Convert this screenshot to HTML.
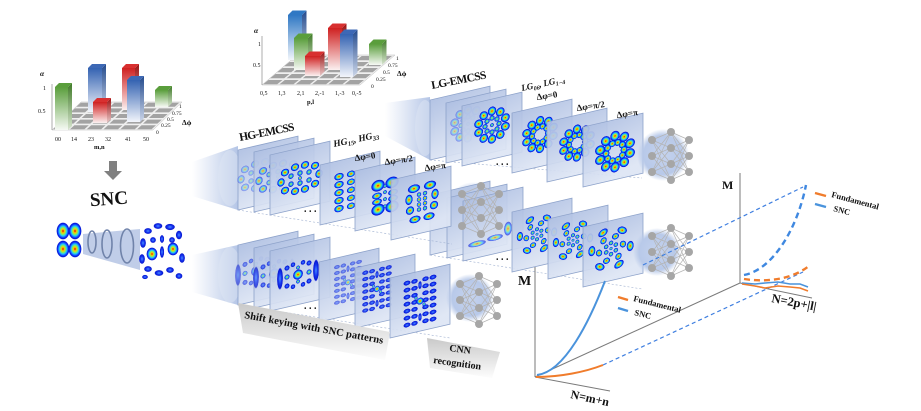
<!DOCTYPE html>
<html><head><meta charset="utf-8"><style>
html,body{margin:0;padding:0;background:#fff;width:921px;height:411px;overflow:hidden}
svg{display:block}
text{font-family:"Liberation Serif",serif;fill:#111}
</style></head><body>
<svg width="921" height="411" viewBox="0 0 921 411" xmlns="http://www.w3.org/2000/svg">
<defs>
<radialGradient id="jet">
 <stop offset="0" stop-color="#e00000"/>
 <stop offset="0.22" stop-color="#ffc800"/>
 <stop offset="0.42" stop-color="#80f060"/>
 <stop offset="0.58" stop-color="#20c8ff"/>
 <stop offset="0.78" stop-color="#1040ff"/>
 <stop offset="0.93" stop-color="#0010d0"/>
 <stop offset="1" stop-color="#0010d0" stop-opacity="0.3"/>
</radialGradient>
<radialGradient id="jb">
 <stop offset="0" stop-color="#f0e020"/>
 <stop offset="0.35" stop-color="#40e0b0"/>
 <stop offset="0.65" stop-color="#1a70ff"/>
 <stop offset="0.9" stop-color="#0818d8"/>
 <stop offset="1" stop-color="#0818d8" stop-opacity="0.3"/>
</radialGradient>
<radialGradient id="bl">
 <stop offset="0" stop-color="#4a90ff"/>
 <stop offset="0.5" stop-color="#1535f0"/>
 <stop offset="0.88" stop-color="#0818d0"/>
 <stop offset="1" stop-color="#0818d0" stop-opacity="0.2"/>
</radialGradient>
<linearGradient id="pn" x1="0" y1="0" x2="0.3" y2="1">
 <stop offset="0" stop-color="#aebfe2"/>
 <stop offset="1" stop-color="#dde5f4"/>
</linearGradient>
<linearGradient id="bm" x1="0" y1="0" x2="1" y2="0">
 <stop offset="0" stop-color="#c2d0ec" stop-opacity="0"/>
 <stop offset="1" stop-color="#b4c5e6"/>
</linearGradient>
<radialGradient id="cir">
 <stop offset="0" stop-color="#c5d3ee"/>
 <stop offset="0.75" stop-color="#b8c9e9"/>
 <stop offset="1" stop-color="#b8c9e9" stop-opacity="0"/>
</radialGradient>
<linearGradient id="gG" x1="0" y1="0" x2="0" y2="1"><stop offset="0" stop-color="#5a9e3c"/><stop offset="1" stop-color="#f6f9f4"/></linearGradient>
<linearGradient id="gGs" x1="0" y1="0" x2="0" y2="1"><stop offset="0" stop-color="#3f7a27"/><stop offset="1" stop-color="#d8e5d0"/></linearGradient>
<linearGradient id="gB" x1="0" y1="0" x2="0" y2="1"><stop offset="0" stop-color="#3463b2"/><stop offset="1" stop-color="#f2f5fb"/></linearGradient>
<linearGradient id="gBs" x1="0" y1="0" x2="0" y2="1"><stop offset="0" stop-color="#234a8c"/><stop offset="1" stop-color="#cdd7ea"/></linearGradient>
<linearGradient id="gB2" x1="0" y1="0" x2="0" y2="1"><stop offset="0" stop-color="#2f78c4"/><stop offset="1" stop-color="#f2f6fb"/></linearGradient>
<linearGradient id="gR" x1="0" y1="0" x2="0" y2="1"><stop offset="0" stop-color="#cf2020"/><stop offset="1" stop-color="#fbf0f0"/></linearGradient>
<linearGradient id="gRs" x1="0" y1="0" x2="0" y2="1"><stop offset="0" stop-color="#9c1010"/><stop offset="1" stop-color="#e8c8c8"/></linearGradient>
<linearGradient id="gray" x1="0" y1="0" x2="0" y2="1"><stop offset="0" stop-color="#c9c9c9"/><stop offset="1" stop-color="#fdfdfd"/></linearGradient>

<rect id="pr" width="60" height="60" fill="url(#pn)" fill-opacity="0.93" stroke="#8da2ca" stroke-width="0.8"/>

<g id="pHG">
<ellipse cx="-15" cy="-9" rx="4.2" ry="3.8" fill="url(#jet)"/>
<ellipse cx="-5" cy="-12" rx="4.2" ry="3.8" fill="url(#jet)"/>
<ellipse cx="5" cy="-12" rx="4.2" ry="3.8" fill="url(#jet)"/>
<ellipse cx="15" cy="-9" rx="4.2" ry="3.8" fill="url(#jet)"/>
<ellipse cx="-19" cy="0" rx="3.8" ry="4.2" fill="url(#jet)"/>
<ellipse cx="19" cy="0" rx="3.8" ry="4.2" fill="url(#jet)"/>
<ellipse cx="-15" cy="9" rx="4.2" ry="3.8" fill="url(#jet)"/>
<ellipse cx="-5" cy="12" rx="4.2" ry="3.8" fill="url(#jet)"/>
<ellipse cx="5" cy="12" rx="4.2" ry="3.8" fill="url(#jet)"/>
<ellipse cx="15" cy="9" rx="4.2" ry="3.8" fill="url(#jet)"/>
<circle cx="-9" cy="-4" r="2.8" fill="url(#jb)"/>
<circle cx="0" cy="-5" r="2.8" fill="url(#jb)"/>
<circle cx="9" cy="-4" r="2.8" fill="url(#jb)"/>
<circle cx="-9" cy="4" r="2.8" fill="url(#jb)"/>
<circle cx="0" cy="5" r="2.8" fill="url(#jb)"/>
<circle cx="9" cy="4" r="2.8" fill="url(#jb)"/>
<circle cx="0" cy="0" r="2" fill="url(#jet)"/>
</g>

<g id="pA4">
<ellipse cx="-6" cy="-16" rx="4.8" ry="3.6" fill="url(#jet)"/>
<ellipse cx="-6" cy="-8" rx="4.8" ry="3.6" fill="url(#jet)"/>
<ellipse cx="-6" cy="0" rx="4.8" ry="3.6" fill="url(#jet)"/>
<ellipse cx="-6" cy="8" rx="4.8" ry="3.6" fill="url(#jet)"/>
<ellipse cx="-6" cy="16" rx="4.8" ry="3.6" fill="url(#jet)"/>
<ellipse cx="6" cy="-16" rx="4.2" ry="3.2" fill="url(#jet)"/>
<ellipse cx="6" cy="-8" rx="4.2" ry="3.2" fill="url(#jet)"/>
<ellipse cx="6" cy="0" rx="4.2" ry="3.2" fill="url(#jet)"/>
<ellipse cx="6" cy="8" rx="4.2" ry="3.2" fill="url(#jet)"/>
<ellipse cx="6" cy="16" rx="4.2" ry="3.2" fill="url(#jet)"/>
</g>

<g id="pA5">
<ellipse cx="-7" cy="-12" rx="6.8" ry="5.8" fill="url(#jet)"/>
<ellipse cx="7" cy="-12" rx="6.8" ry="5.8" fill="url(#jet)"/>
<ellipse cx="-7" cy="12" rx="6.8" ry="5.8" fill="url(#jet)"/>
<ellipse cx="7" cy="12" rx="6.8" ry="5.8" fill="url(#jet)"/>
<ellipse cx="-8" cy="-2" rx="5" ry="3.2" fill="url(#jet)"/>
<ellipse cx="8" cy="-2" rx="5" ry="3.2" fill="url(#jet)"/>
<ellipse cx="-8" cy="4" rx="5" ry="3.2" fill="url(#jet)"/>
<ellipse cx="8" cy="4" rx="5" ry="3.2" fill="url(#jet)"/>
<circle cx="0" cy="-4" r="2" fill="url(#jb)"/>
<circle cx="0" cy="3" r="2" fill="url(#jb)"/>
<circle cx="0" cy="-10" r="1.8" fill="url(#jb)"/>
<circle cx="0" cy="10" r="1.8" fill="url(#jb)"/>
</g>

<g id="pA6">
<ellipse cx="-8" cy="-14" rx="6.2" ry="4.2" fill="url(#jet)"/>
<ellipse cx="8" cy="-14" rx="6.2" ry="4.2" fill="url(#jet)"/>
<ellipse cx="-13" cy="-4" rx="3.7" ry="5.2" fill="url(#jet)"/>
<ellipse cx="13" cy="-4" rx="3.7" ry="5.2" fill="url(#jet)"/>
<ellipse cx="-12" cy="7" rx="4.2" ry="4.2" fill="url(#jet)"/>
<ellipse cx="12" cy="7" rx="4.2" ry="4.2" fill="url(#jet)"/>
<ellipse cx="-7" cy="17" rx="5.7" ry="3.7" fill="url(#jet)"/>
<ellipse cx="7" cy="17" rx="5.7" ry="3.7" fill="url(#jet)"/>
<circle cx="-3" cy="-7" r="2.3" fill="url(#jb)"/><circle cx="3" cy="-7" r="2.3" fill="url(#jb)"/>
<circle cx="-3" cy="-2" r="2.3" fill="url(#jet)"/><circle cx="3" cy="-2" r="2.3" fill="url(#jet)"/>
<circle cx="-3" cy="3" r="2.3" fill="url(#jet)"/><circle cx="3" cy="3" r="2.3" fill="url(#jet)"/>
<circle cx="-3" cy="8" r="2.3" fill="url(#jb)"/><circle cx="3" cy="8" r="2.3" fill="url(#jb)"/>
</g>

<ellipse id="lgo" cx="0" cy="-14" rx="4.3" ry="4.6" fill="url(#jet)"/>
<circle id="lgi" cx="0" cy="-7" r="2.7" fill="url(#jb)"/>
<circle id="lgi2" cx="0" cy="-8" r="3.1" fill="url(#jet)"/>
<g id="ring10">
<use href="#lgo"/><use href="#lgo" transform="rotate(36)"/><use href="#lgo" transform="rotate(72)"/><use href="#lgo" transform="rotate(108)"/><use href="#lgo" transform="rotate(144)"/><use href="#lgo" transform="rotate(180)"/><use href="#lgo" transform="rotate(216)"/><use href="#lgo" transform="rotate(252)"/><use href="#lgo" transform="rotate(288)"/><use href="#lgo" transform="rotate(324)"/>
</g>
<g id="pLG">
<use href="#ring10"/>
<use href="#lgi"/><use href="#lgi" transform="rotate(45)"/><use href="#lgi" transform="rotate(90)"/><use href="#lgi" transform="rotate(135)"/><use href="#lgi" transform="rotate(180)"/><use href="#lgi" transform="rotate(225)"/><use href="#lgi" transform="rotate(270)"/><use href="#lgi" transform="rotate(315)"/>
<circle r="2" fill="url(#jb)"/>
</g>
<g id="pLG2">
<use href="#ring10"/>
<use href="#lgi2" transform="rotate(18)"/><use href="#lgi2" transform="rotate(54)"/><use href="#lgi2" transform="rotate(90)"/><use href="#lgi2" transform="rotate(126)"/><use href="#lgi2" transform="rotate(162)"/><use href="#lgi2" transform="rotate(198)"/><use href="#lgi2" transform="rotate(234)"/><use href="#lgi2" transform="rotate(270)"/><use href="#lgi2" transform="rotate(306)"/><use href="#lgi2" transform="rotate(342)"/>
</g>

<g id="arm">
<circle cx="0" cy="-5" r="2.1" fill="url(#jb)"/>
<ellipse cx="4" cy="-10" rx="3.2" ry="2.8" fill="url(#jet)"/>
<ellipse cx="10" cy="-14" rx="4.6" ry="3.2" fill="url(#jet)" transform="rotate(30 10 -14)"/>
</g>
<g id="pSp">
<use href="#arm"/><use href="#arm" transform="rotate(60)"/><use href="#arm" transform="rotate(120)"/><use href="#arm" transform="rotate(180)"/><use href="#arm" transform="rotate(240)"/><use href="#arm" transform="rotate(300)"/>
<circle r="1.5" fill="url(#jb)"/>
</g>

<g id="pD3">
<ellipse cx="-18" cy="0" rx="3" ry="11" fill="url(#bl)"/>
<ellipse cx="18" cy="0" rx="3" ry="11" fill="url(#bl)"/>
<circle cx="-11" cy="-9" r="2.6" fill="url(#bl)"/><circle cx="-11" cy="0" r="2.6" fill="url(#jb)"/><circle cx="-11" cy="9" r="2.6" fill="url(#bl)"/>
<circle cx="11" cy="-9" r="2.6" fill="url(#bl)"/><circle cx="11" cy="0" r="2.6" fill="url(#jb)"/><circle cx="11" cy="9" r="2.6" fill="url(#bl)"/>
<circle cx="-5" cy="-11" r="2.4" fill="url(#bl)"/><circle cx="5" cy="-11" r="2.4" fill="url(#bl)"/>
<circle cx="-5" cy="11" r="2.4" fill="url(#bl)"/><circle cx="5" cy="11" r="2.4" fill="url(#bl)"/>
<circle cx="0" cy="0" r="5" fill="url(#jet)"/>
<circle cx="0" cy="-7" r="2" fill="url(#jb)"/><circle cx="0" cy="7" r="2" fill="url(#jb)"/>
</g>

<g id="dr">
<ellipse cx="-13" cy="0" rx="3.6" ry="2.4" fill="url(#bl)"/>
<ellipse cx="-5.5" cy="0" rx="3.4" ry="2.4" fill="url(#bl)"/>
<ellipse cx="5.5" cy="0" rx="3.4" ry="2.4" fill="url(#bl)"/>
<ellipse cx="13" cy="0" rx="3.6" ry="2.4" fill="url(#bl)"/>
</g>
<g id="pD6">
<use href="#dr" y="-21"/><use href="#dr" y="-14"/><use href="#dr" y="-7"/><use href="#dr" y="0"/><use href="#dr" y="7"/><use href="#dr" y="14"/><use href="#dr" y="21"/>
<ellipse cx="0" cy="-16" rx="1.8" ry="4" fill="url(#bl)"/>
<ellipse cx="0" cy="16" rx="1.8" ry="4" fill="url(#bl)"/>
<circle cx="0" cy="0" r="3.5" fill="url(#jet)"/>
<circle cx="-4" cy="-4" r="1.8" fill="url(#jb)"/><circle cx="4" cy="4" r="1.8" fill="url(#jb)"/>
</g>

<g id="net">
<path d="M0,12L19,4M0,12L19,20M0,12L19,36M0,12L19,52M0,28L19,4M0,28L19,20M0,28L19,36M0,28L19,52M0,44L19,4M0,44L19,20M0,44L19,36M0,44L19,52M19,4L37,12M19,4L37,28M19,4L37,44M19,20L37,12M19,20L37,28M19,20L37,44M19,36L37,12M19,36L37,28M19,36L37,44M19,52L37,12M19,52L37,28M19,52L37,44" stroke="#b4b4b4" stroke-width="0.7" fill="none"/>
<g fill="#a6a6a6">
<circle cx="0" cy="12" r="4"/><circle cx="0" cy="28" r="4"/><circle cx="0" cy="44" r="4"/>
<circle cx="19" cy="4" r="4"/><circle cx="19" cy="20" r="4"/><circle cx="19" cy="36" r="4"/><circle cx="19" cy="52" r="4"/>
<circle cx="37" cy="12" r="4"/><circle cx="37" cy="28" r="4"/><circle cx="37" cy="44" r="4"/>
</g>
</g>

<g id="tr1" fill="#a3a3a3">
<polygon points="1.2,-0.8 15.6,-0.8 20,-4.8 5.6,-4.8"/>
<polygon points="18,-0.8 32.4,-0.8 36.8,-4.8 22.4,-4.8"/>
<polygon points="34.8,-0.8 49.2,-0.8 53.6,-4.8 39.2,-4.8"/>
<polygon points="51.6,-0.8 66,-0.8 70.4,-4.8 56,-4.8"/>
<polygon points="68.4,-0.8 82.8,-0.8 87.2,-4.8 72.8,-4.8"/>
<polygon points="85.2,-0.8 99.6,-0.8 104,-4.8 89.6,-4.8"/>
</g>
<g id="tr2" fill="#a3a3a3">
<polygon points="1.2,-0.8 15.2,-0.8 20.5,-5 6.5,-5"/>
<polygon points="17.5,-0.8 31.5,-0.8 36.8,-5 22.8,-5"/>
<polygon points="33.8,-0.8 47.8,-0.8 53.1,-5 39.1,-5"/>
<polygon points="50.1,-0.8 64.1,-0.8 69.4,-5 55.4,-5"/>
<polygon points="66.4,-0.8 80.4,-0.8 85.7,-5 71.7,-5"/>
<polygon points="82.7,-0.8 96.7,-0.8 102,-5 88,-5"/>
</g>
</defs>

<!-- ===== Left bar chart ===== -->
<polygon points="52,130 153,130 182,102 81,102" fill="#efefef" stroke="#bdbdbd" stroke-width="0.5"/>
<use href="#tr1" transform="translate(52,130)"/>
<use href="#tr1" transform="translate(57.8,124.4)"/>
<use href="#tr1" transform="translate(63.6,118.8)"/>
<use href="#tr1" transform="translate(69.4,113.2)"/>
<use href="#tr1" transform="translate(75.2,107.6)"/>
<line x1="52" y1="84" x2="52" y2="130" stroke="#999" stroke-width="0.8"/>
<rect x="88" y="68" width="14" height="44" fill="url(#gB)"/><polygon points="102,68 106,64 106,108 102,112" fill="url(#gBs)"/><polygon points="88,68 92,64 106,64 102,68" fill="#3d68b5"/>
<rect x="122" y="68" width="13" height="42" fill="url(#gR)"/><polygon points="135,68 139,64 139,106 135,110" fill="url(#gRs)"/><polygon points="122,68 126,64 139,64 135,68" fill="#d83030"/>
<rect x="155" y="90" width="13" height="17" fill="url(#gG)"/><polygon points="168,90 172,86 172,103 168,107" fill="url(#gGs)"/><polygon points="155,90 159,86 172,86 168,90" fill="#5a9e3c"/>
<rect x="127" y="80" width="13" height="42" fill="url(#gB)"/><polygon points="140,80 144,76 144,118 140,122" fill="url(#gBs)"/><polygon points="127,80 131,76 144,76 140,80" fill="#3d68b5"/>
<rect x="93" y="102" width="14" height="21" fill="url(#gR)"/><polygon points="107,102 111,98 111,119 107,123" fill="url(#gRs)"/><polygon points="93,102 97,98 111,98 107,102" fill="#d83030"/>
<rect x="55" y="87" width="13" height="43" fill="url(#gG)"/><polygon points="68,87 72,83 72,126 68,130" fill="url(#gGs)"/><polygon points="55,87 59,83 72,83 68,87" fill="#5a9e3c"/>
<g font-size="6">
<text x="40" y="76" font-size="7.5" font-style="italic" font-weight="bold">α</text>
<text x="43" y="90">1</text>
<text x="38" y="113">0.5</text>
<text x="55" y="141">00</text><text x="71" y="141">14</text><text x="88" y="141">23</text><text x="105" y="141">32</text><text x="125" y="141">41</text><text x="143" y="141">50</text>
<text x="94" y="149" font-weight="bold" font-size="6.5">m,n</text>
<text x="179" y="108" font-size="5.5">1</text><text x="172" y="115" font-size="5.5">0.75</text><text x="167" y="121" font-size="5.5">0.5</text><text x="161" y="127" font-size="5.5">0.25</text><text x="156" y="134" font-size="5.5">0</text>
<text x="182" y="125" font-size="7.5" font-weight="bold">Δϕ</text>
</g>

<!-- ===== Top bar chart ===== -->
<polygon points="262,85 360,85 395,55 297,55" fill="#efefef" stroke="#bdbdbd" stroke-width="0.5"/>
<use href="#tr2" transform="translate(262,85)"/>
<use href="#tr2" transform="translate(269,79)"/>
<use href="#tr2" transform="translate(276,73)"/>
<use href="#tr2" transform="translate(283,67)"/>
<use href="#tr2" transform="translate(290,61)"/>
<line x1="262" y1="36" x2="262" y2="85" stroke="#999" stroke-width="0.8"/>
<rect x="288" y="15" width="14" height="45" fill="url(#gB2)"/><polygon points="302,15 306.5,10.5 306.5,55.5 302,60" fill="url(#gBs)"/><polygon points="288,15 292.5,10.5 306.5,10.5 302,15" fill="#2f78c4"/>
<rect x="369" y="44" width="13" height="21" fill="url(#gG)"/><polygon points="382,44 386.5,39.5 386.5,60.5 382,65" fill="url(#gGs)"/><polygon points="369,44 373.5,39.5 386.5,39.5 382,44" fill="#5a9e3c"/>
<rect x="328" y="28" width="14" height="42" fill="url(#gR)"/><polygon points="342,28 346.5,23.5 346.5,65.5 342,70" fill="url(#gRs)"/><polygon points="328,28 332.5,23.5 346.5,23.5 342,28" fill="#d83030"/>
<rect x="294" y="38" width="14" height="32" fill="url(#gG)"/><polygon points="308,38 312.5,33.5 312.5,65.5 308,70" fill="url(#gGs)"/><polygon points="294,38 298.5,33.5 312.5,33.5 308,38" fill="#5a9e3c"/>
<rect x="340" y="34" width="13" height="43" fill="url(#gB)"/><polygon points="353,34 357.5,29.5 357.5,72.5 353,77" fill="url(#gBs)"/><polygon points="340,34 344.5,29.5 357.5,29.5 353,34" fill="#3d68b5"/>
<rect x="305" y="56" width="15" height="20" fill="url(#gR)"/><polygon points="320,56 324.5,51.5 324.5,71.5 320,76" fill="url(#gRs)"/><polygon points="305,56 309.5,51.5 324.5,51.5 320,56" fill="#d83030"/>
<g font-size="6">
<text x="254" y="33" font-size="7.5" font-style="italic" font-weight="bold">α</text>
<text x="258" y="46">1</text>
<text x="253" y="67">0.5</text>
<text x="260" y="95">0,5</text><text x="278" y="95">1,3</text><text x="297" y="95">2,1</text><text x="315" y="95">2,-1</text><text x="335" y="95">1,-3</text><text x="352" y="95">0,-5</text>
<text x="307" y="104" font-weight="bold" font-size="6.5">p,l</text>
<text x="396" y="60" font-size="5.5">1</text><text x="388" y="67" font-size="5.5">0.75</text><text x="383" y="74" font-size="5.5">0.5</text><text x="376" y="81" font-size="5.5">0.25</text><text x="371" y="88" font-size="5.5">0</text>
<text x="397" y="76" font-size="7.5" font-weight="bold">Δϕ</text>
</g>

<!-- arrow -->
<rect x="109" y="161" width="8" height="11" fill="#808080"/>
<polygon points="104,171 122,171 113,180" fill="#808080"/>
<text x="90" y="205" font-size="19" font-weight="bold" transform="rotate(-4 108 200)">SNC</text>

<!-- SNC illustration -->
<polygon points="83,234 140,229 140,270 83,254" fill="#b9c8e6" opacity="0.9"/>
<g transform="translate(69,240)">
<ellipse cx="-6" cy="-9" rx="6.5" ry="8.5" fill="url(#jet)"/>
<ellipse cx="6" cy="-9" rx="6.5" ry="8.5" fill="url(#jet)"/>
<ellipse cx="-6" cy="9" rx="6.5" ry="8.5" fill="url(#jet)"/>
<ellipse cx="6" cy="9" rx="6.5" ry="8.5" fill="url(#jet)"/>
</g>
<g fill="none" stroke="#7083aa" stroke-width="1.6">
<ellipse cx="92" cy="242" rx="4" ry="11"/>
<ellipse cx="107" cy="244" rx="5" ry="14"/>
<ellipse cx="127" cy="246" rx="6.5" ry="17"/>
</g>
<g transform="translate(162,251)">
<ellipse cx="-14" cy="-20" rx="4" ry="3" fill="url(#bl)"/>
<ellipse cx="-4" cy="-25" rx="4.5" ry="3" fill="url(#bl)"/>
<ellipse cx="8" cy="-24" rx="5" ry="3.2" fill="url(#bl)"/>
<ellipse cx="17" cy="-16" rx="3.2" ry="4.5" fill="url(#bl)"/>
<ellipse cx="-19" cy="-8" rx="3" ry="5" fill="url(#bl)"/>
<ellipse cx="-9" cy="-11" rx="3" ry="3" fill="url(#bl)"/>
<ellipse cx="0" cy="-12" rx="2.2" ry="4" fill="url(#bl)"/>
<ellipse cx="10" cy="-11" rx="3" ry="3" fill="url(#bl)"/>
<ellipse cx="-10" cy="3" rx="5.5" ry="6.5" fill="url(#jet)"/>
<ellipse cx="11" cy="-2" rx="5.5" ry="6.5" fill="url(#jet)"/>
<ellipse cx="0" cy="1" rx="2.2" ry="6" fill="url(#bl)"/>
<ellipse cx="-20" cy="8" rx="3" ry="5" fill="url(#bl)"/>
<ellipse cx="20" cy="7" rx="3" ry="5" fill="url(#bl)"/>
<ellipse cx="-14" cy="18" rx="4" ry="3" fill="url(#bl)"/>
<ellipse cx="-3" cy="22" rx="4.5" ry="3" fill="url(#bl)"/>
<ellipse cx="8" cy="19" rx="4" ry="3" fill="url(#bl)"/>
<ellipse cx="17" cy="25" rx="3.5" ry="3" fill="url(#bl)"/>
<ellipse cx="-17" cy="26" rx="3" ry="2.2" fill="url(#bl)"/>
</g>

<!-- ===== Row B (LG) ===== -->
<polygon points="385,103 430,97 430,160 385,136" fill="url(#bm)"/>
<ellipse cx="425" cy="128" rx="10" ry="28" fill="#dde5f4" opacity="0.5"/>
<line x1="430" y1="160" x2="642" y2="178" stroke="#9fb0d0" stroke-width="0.6" stroke-dasharray="2,2"/>
<g transform="translate(430,100) skewY(-13)"><use href="#pr"/></g>
<g transform="translate(446,103) skewY(-13)"><use href="#pr"/><use href="#pLG" transform="translate(22,26)" opacity="0.35"/></g>
<g transform="translate(462,106) skewY(-13)"><use href="#pr"/><use href="#pLG" transform="translate(30,26)"/></g>
<text x="496" y="165" font-size="10" font-weight="bold">. . .</text>
<g transform="translate(512,113) skewY(-13)"><use href="#pr"/><use href="#pLG2" transform="translate(28,28)"/></g>
<g transform="translate(547,122) skewY(-13)"><use href="#pr"/><use href="#pLG2" transform="translate(30,28)"/></g>
<g transform="translate(583,127) skewY(-13)"><use href="#pr"/><use href="#pLG2" transform="translate(32,32) scale(1.12)"/></g>
<circle cx="663" cy="155" r="26" fill="url(#cir)"/>
<use href="#net" transform="translate(652,128)"/>
<text font-size="11.5" font-weight="bold" transform="translate(432,89) rotate(-11)" textLength="56">LG-EMCSS</text>
<text font-size="9" font-weight="bold" font-style="italic" transform="translate(522,91) rotate(-12)">LG<tspan font-size="6" dy="2">06</tspan><tspan dy="-2">, LG</tspan><tspan font-size="6" dy="2">1−4</tspan></text>
<text font-size="9" font-weight="bold" transform="translate(537,100) rotate(-8)">Δφ=0</text>
<text font-size="9" font-weight="bold" transform="translate(577,111) rotate(-8)">Δφ=π/2</text>
<text font-size="9" font-weight="bold" transform="translate(617,118) rotate(-8)">Δφ=π</text>

<!-- ===== Row C (spiral) ===== -->
<circle cx="474" cy="212" r="30" fill="url(#cir)"/>
<line x1="430" y1="255" x2="642" y2="289" stroke="#9fb0d0" stroke-width="0.6" stroke-dasharray="2,2"/>
<g transform="translate(430,195) skewY(-13)"><use href="#pr"/></g>
<g transform="translate(447,198) skewY(-13)"><use href="#pr"/></g>
<g transform="translate(463,201) skewY(-13)"><use href="#pr"/>
<ellipse cx="14" cy="46" rx="9" ry="3" fill="url(#jet)" opacity="0.6"/>
<ellipse cx="32" cy="44" rx="8" ry="3" fill="url(#jet)" opacity="0.6"/>
<ellipse cx="45" cy="38" rx="4" ry="7" fill="url(#jet)" opacity="0.6"/></g>
<use href="#net" transform="translate(462,182)"/>
<text x="496" y="260" font-size="10" font-weight="bold">. . .</text>
<g transform="translate(512,212) skewY(-13)"><use href="#pr"/><use href="#pSp" transform="translate(25,28)"/></g>
<g transform="translate(548,219) skewY(-13)"><use href="#pr"/><use href="#pSp" transform="translate(25,27)"/></g>
<g transform="translate(583,227) skewY(-13)"><use href="#pr"/><use href="#pSp" transform="translate(28,28) scale(1.12)"/></g>
<circle cx="657" cy="252" r="24" fill="url(#cir)"/>
<use href="#net" transform="translate(652,224)"/>

<!-- ===== Row A (HG) ===== -->
<polygon points="192,162 238,146 238,210 192,196" fill="url(#bm)"/>
<ellipse cx="230" cy="178" rx="12" ry="28" fill="#dde5f4" opacity="0.5"/>
<line x1="238" y1="210" x2="452" y2="244" stroke="#9fb0d0" stroke-width="0.6" stroke-dasharray="2,2"/>
<g transform="translate(238,150) skewY(-13)"><use href="#pr"/><use href="#pHG" transform="translate(22,30)" opacity="0.35"/></g>
<g transform="translate(254,152) skewY(-13)"><use href="#pr"/><use href="#pHG" transform="translate(24,30)" opacity="0.6"/></g>
<g transform="translate(270,155) skewY(-13)"><use href="#pr"/><use href="#pHG" transform="translate(30,30)"/></g>
<text x="304" y="212" font-size="10" font-weight="bold">. . .</text>
<g transform="translate(320,165) skewY(-13)"><use href="#pr"/><use href="#pA4" transform="translate(25,32)"/></g>
<g transform="translate(355,171) skewY(-13)"><use href="#pr"/><use href="#pA5" transform="translate(30,32)"/></g>
<g transform="translate(391,180) skewY(-13)"><use href="#pr"/><use href="#pA6" transform="translate(31,28)"/></g>
<text font-size="11.5" font-weight="bold" transform="translate(240,141) rotate(-11)" textLength="56">HG-EMCSS</text>
<text font-size="9.5" font-weight="bold" font-style="italic" transform="translate(334,147) rotate(-12)">HG<tspan font-size="6.5" dy="2">15</tspan><tspan dy="-2">, HG</tspan><tspan font-size="6.5" dy="2">33</tspan></text>
<text font-size="9" font-weight="bold" transform="translate(355,161) rotate(-8)">Δφ=0</text>
<text font-size="9" font-weight="bold" transform="translate(385,165) rotate(-8)">Δφ=π/2</text>
<text font-size="9" font-weight="bold" transform="translate(425,171) rotate(-8)">Δφ=π</text>

<!-- ===== Row D (SNC shift keying) ===== -->
<polygon points="192,255 238,245 238,305 192,292" fill="url(#bm)"/>
<ellipse cx="230" cy="275" rx="12" ry="28" fill="#dde5f4" opacity="0.5"/>
<line x1="238" y1="305" x2="450" y2="338" stroke="#9fb0d0" stroke-width="0.6" stroke-dasharray="2,2"/>
<g transform="translate(238,245) skewY(-13)"><use href="#pr"/><use href="#pD3" transform="translate(18,30)" opacity="0.55"/></g>
<g transform="translate(254,248) skewY(-13)"><use href="#pr"/><use href="#pD3" transform="translate(20,30)" opacity="0.75"/></g>
<g transform="translate(270,251) skewY(-13)"><use href="#pr"/><use href="#pD3" transform="translate(28,30)"/></g>
<text x="304" y="309" font-size="10" font-weight="bold">. . .</text>
<g transform="translate(319,262) skewY(-13)"><use href="#pr"/><use href="#pD6" transform="translate(29,27) scale(0.85)" opacity="0.55"/></g>
<g transform="translate(355,268) skewY(-13)"><use href="#pr"/><use href="#pD6" transform="translate(22,26) scale(0.9)" opacity="0.9"/></g>
<g transform="translate(390,278) skewY(-13)"><use href="#pr"/><use href="#pD6" transform="translate(30,30)"/></g>
<circle cx="470" cy="298" r="24" fill="url(#cir)"/>
<use href="#net" transform="translate(460,272)"/>

<!-- banners -->
<polygon points="238,303 390,332 385,360 243,333" fill="url(#gray)"/>
<text font-size="10.5" font-weight="bold" transform="translate(244,318) rotate(10.5)" textLength="141">Shift keying with SNC patterns</text>
<polygon points="427,338 500,352 492,378 430,368" fill="url(#gray)"/>
<text font-size="10" font-weight="bold" transform="translate(449,351) rotate(8)">CNN</text>
<text font-size="10" font-weight="bold" transform="translate(433,363) rotate(8)">recognition</text>

<!-- ===== graphs ===== -->
<g fill="none">
<path d="M535,267 V377" stroke="#7a7a7a" stroke-width="1"/>
<path d="M535,377 L740,283" stroke="#7a7a7a" stroke-width="1"/>
<path d="M535,377 L610,391" stroke="#7a7a7a" stroke-width="1"/>
<path d="M740,173 V283" stroke="#7a7a7a" stroke-width="1"/>
<path d="M740,283 L812,298" stroke="#7a7a7a" stroke-width="1"/>
<path d="M603,365 L803,272" stroke="#3f7fe0" stroke-width="1.2" stroke-dasharray="4,3"/>
<path d="M643,265 L803,187" stroke="#3f7fe0" stroke-width="1.2" stroke-dasharray="4,3"/>
<path d="M537,375 C565,372 590,320 605,281" stroke="#4a93dc" stroke-width="2"/>
<path d="M536,377 C560,377 585,372 603,365" stroke="#f07c2c" stroke-width="2"/>
<path d="M744,275 C772,270 797,230 806,185" stroke="#3f88e0" stroke-width="2.4" stroke-dasharray="6,4"/>
<path d="M744,279 C770,283 795,278 810,265" stroke="#f07c2c" stroke-width="2.4" stroke-dasharray="6,4"/>
<path d="M742,283 L755,284 L765,283 L778,282 L790,284 L800,284 L808,287" stroke="#4a93dc" stroke-width="1.6"/>
<path d="M742,284 L755,286 L765,288 L778,286 L790,287 L800,288 L808,291" stroke="#f07c2c" stroke-width="1.6"/>
<path d="M618,297 L628,300" stroke="#f07c2c" stroke-width="2.4"/>
<path d="M618,308 L628,311" stroke="#4a93dc" stroke-width="2.4"/>
<path d="M815,193 L826,196" stroke="#f07c2c" stroke-width="2.4"/>
<path d="M815,204 L826,207" stroke="#4a93dc" stroke-width="2.4"/>
</g>
<text x="518" y="285" font-size="14" font-weight="bold">M</text>
<text x="722" y="189" font-size="12" font-weight="bold">M</text>
<text font-size="12" font-weight="bold" transform="translate(570,398) rotate(12)">N=m+n</text>
<text font-size="12.5" font-weight="bold" transform="translate(771,302) rotate(11)">N=2p+|l|</text>
<text font-size="8.5" font-weight="bold" transform="translate(633,301) rotate(14)">Fundamental</text>
<text font-size="8.5" font-weight="bold" transform="translate(634,315) rotate(14)">SNC</text>
<text font-size="8.5" font-weight="bold" transform="translate(831,197) rotate(15)">Fundamental</text>
<text font-size="8.5" font-weight="bold" transform="translate(833,211) rotate(15)">SNC</text>
</svg>
</body></html>
